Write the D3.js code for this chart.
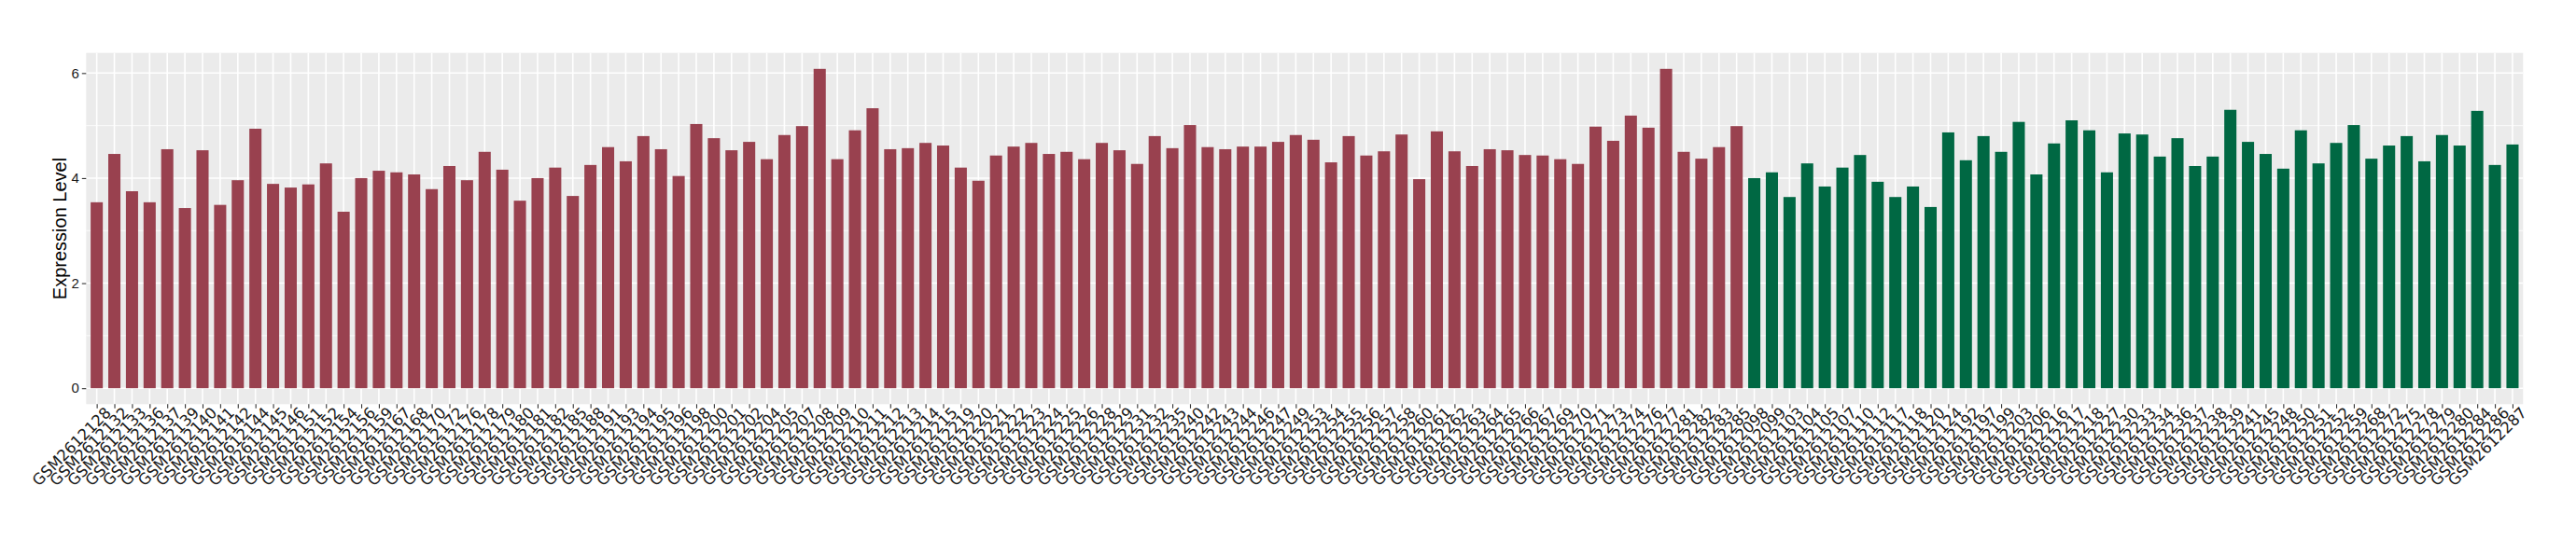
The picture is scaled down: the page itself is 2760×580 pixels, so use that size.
<!DOCTYPE html>
<html>
<head>
<meta charset="utf-8">
<script src="https://cdn.jsdelivr.net/npm/d3@7"></script>
<style>
  html, body { margin: 0; padding: 0; background: #ffffff; }
  svg { display: block; }
</style>
</head>
<body>
<svg id="chart" width="2760" height="580"></svg>
<script>
// ---- data ----
const groupASamples = [
  "GSM2612128","GSM2612132","GSM2612133","GSM2612136","GSM2612137","GSM2612139","GSM2612140","GSM2612141","GSM2612142","GSM2612144",
  "GSM2612145","GSM2612146","GSM2612151","GSM2612152","GSM2612154","GSM2612156","GSM2612159","GSM2612167","GSM2612168","GSM2612170",
  "GSM2612172","GSM2612176","GSM2612178","GSM2612179","GSM2612180","GSM2612181","GSM2612182","GSM2612185","GSM2612188","GSM2612191",
  "GSM2612193","GSM2612194","GSM2612195","GSM2612196","GSM2612198","GSM2612200","GSM2612201","GSM2612202","GSM2612204","GSM2612205",
  "GSM2612207","GSM2612208","GSM2612209","GSM2612210","GSM2612211","GSM2612212","GSM2612213","GSM2612214","GSM2612215","GSM2612219",
  "GSM2612220","GSM2612221","GSM2612222","GSM2612223","GSM2612224","GSM2612225","GSM2612226","GSM2612228","GSM2612229","GSM2612231",
  "GSM2612232","GSM2612235","GSM2612240","GSM2612242","GSM2612243","GSM2612244","GSM2612246","GSM2612247","GSM2612249","GSM2612253",
  "GSM2612254","GSM2612255","GSM2612256","GSM2612257","GSM2612258","GSM2612260","GSM2612261","GSM2612262","GSM2612263","GSM2612264",
  "GSM2612265","GSM2612266","GSM2612267","GSM2612269","GSM2612270","GSM2612271","GSM2612273","GSM2612274","GSM2612276","GSM2612277",
  "GSM2612281","GSM2612282","GSM2612283","GSM2612285"
];
const groupAValues = [
  3.54,4.46,3.75,3.54,4.55,3.43,4.53,3.49,3.96,4.94,
  3.89,3.82,3.88,4.28,3.36,4.00,4.14,4.11,4.07,3.79,
  4.23,3.96,4.50,4.16,3.57,4.00,4.20,3.66,4.25,4.59,
  4.32,4.80,4.55,4.04,5.03,4.76,4.53,4.69,4.36,4.82,
  4.99,6.08,4.36,4.91,5.33,4.55,4.57,4.67,4.62,4.20,
  3.95,4.43,4.60,4.67,4.46,4.50,4.36,4.67,4.53,4.27,
  4.80,4.57,5.01,4.59,4.55,4.60,4.60,4.69,4.82,4.73,
  4.30,4.80,4.43,4.51,4.83,3.98,4.89,4.51,4.23,4.55,
  4.53,4.44,4.43,4.36,4.27,4.98,4.71,5.19,4.96,6.08,
  4.50,4.37,4.59,4.99
];
const groupBSamples = [
  "GSM2612098","GSM2612099","GSM2612103","GSM2612104","GSM2612105","GSM2612107","GSM2612110","GSM2612112","GSM2612117","GSM2612118",
  "GSM2612120","GSM2612124","GSM2612192","GSM2612197","GSM2612199","GSM2612203","GSM2612206","GSM2612216","GSM2612217","GSM2612218",
  "GSM2612227","GSM2612230","GSM2612233","GSM2612234","GSM2612236","GSM2612237","GSM2612238","GSM2612239","GSM2612241","GSM2612245",
  "GSM2612248","GSM2612250","GSM2612251","GSM2612252","GSM2612259","GSM2612268","GSM2612272","GSM2612275","GSM2612278","GSM2612279",
  "GSM2612280","GSM2612284","GSM2612286","GSM2612287"
];
const groupBValues = [
  4.00,4.11,3.64,4.28,3.84,4.20,4.44,3.93,3.64,3.84,
  3.45,4.87,4.34,4.80,4.50,5.07,4.07,4.66,5.10,4.91,
  4.11,4.85,4.83,4.41,4.76,4.23,4.41,5.30,4.69,4.46,
  4.18,4.91,4.28,4.67,5.01,4.37,4.62,4.80,4.32,4.82,
  4.62,5.28,4.25,4.64
];
const yTicks = [0, 2, 4, 6];
const yMinorTicks = [1, 3, 5];
const yTitle = "Expression Level";
const groupColors = ["#99414F", "#006843"];

// ---- build table ----
const rows = [];
groupASamples.forEach((s, i) => rows.push({ sample: s, value: groupAValues[i], group: 0 }));
groupBSamples.forEach((s, i) => rows.push({ sample: s, value: groupBValues[i], group: 1 }));

// ---- layout ----
const svg = d3.select("#chart");
const panel = { left: 92.3, right: 2703.3, top: 56.7, bottom: 433.3 };

const x = d3.scalePoint()
  .domain(rows.map(d => d.sample))
  .range([panel.left, panel.right])
  .padding(0.6);
const barW = x.step() * 0.69;

const yMax = d3.max(rows, d => d.value);
const y = d3.scaleLinear()
  .domain([-0.05 * yMax, 1.05 * yMax])
  .range([panel.bottom, panel.top]);

// panel background
svg.append("rect")
  .attr("x", panel.left).attr("y", panel.top)
  .attr("width", panel.right - panel.left)
  .attr("height", panel.bottom - panel.top)
  .attr("fill", "#EBEBEB");

const grid = svg.append("g");
grid.selectAll("line.minor").data(yMinorTicks).join("line")
  .attr("x1", panel.left).attr("x2", panel.right)
  .attr("y1", d => y(d)).attr("y2", d => y(d))
  .attr("stroke", "#ffffff").attr("stroke-width", 0.8);
grid.selectAll("line.major").data(yTicks).join("line")
  .attr("x1", panel.left).attr("x2", panel.right)
  .attr("y1", d => y(d)).attr("y2", d => y(d))
  .attr("stroke", "#ffffff").attr("stroke-width", 1.6);
grid.selectAll("line.vx").data(rows).join("line")
  .attr("x1", d => x(d.sample)).attr("x2", d => x(d.sample))
  .attr("y1", panel.top).attr("y2", panel.bottom)
  .attr("stroke", "#ffffff").attr("stroke-width", 1.6);

// bars
svg.append("g").selectAll("rect").data(rows).join("rect")
  .attr("x", d => x(d.sample) - barW / 2)
  .attr("width", barW)
  .attr("y", d => y(d.value))
  .attr("height", d => y(0) - y(d.value))
  .attr("fill", d => groupColors[d.group]);

// y axis
const yAxis = svg.append("g")
  .attr("transform", `translate(${panel.left},0)`)
  .call(d3.axisLeft(y).tickValues(yTicks).tickSize(4.5).tickPadding(3).tickFormat(d3.format("d")));
yAxis.select(".domain").remove();
yAxis.selectAll(".tick line").attr("stroke", "#333333").attr("stroke-width", 1.1);
yAxis.selectAll(".tick text")
  .attr("fill", "#1a1a1a")
  .style("font-family", "'Liberation Sans', Arial, sans-serif")
  .style("font-size", "15px");

// x axis
const xAxis = svg.append("g")
  .attr("transform", `translate(0,${panel.bottom})`)
  .call(d3.axisBottom(x).tickSize(4.5).tickPadding(3));
xAxis.select(".domain").remove();
xAxis.selectAll(".tick line").attr("stroke", "#333333").attr("stroke-width", 1.1);
xAxis.selectAll(".tick text")
  .attr("fill", "#1a1a1a")
  .style("font-family", "'DejaVu Sans', sans-serif")
  .style("font-size", "16.5px")
  .attr("text-anchor", "end")
  .attr("dy", "0.75em")
  .attr("y", 6)
  .attr("x", 4)
  .attr("transform", "rotate(-45)");

// y title
svg.append("text")
  .attr("transform", `translate(71,${(panel.top + panel.bottom) / 2}) rotate(-90)`)
  .attr("text-anchor", "middle")
  .style("font-family", "'Liberation Sans', Arial, sans-serif")
  .style("font-size", "20px")
  .attr("fill", "#000000")
  .text(yTitle);
</script>
</body>
</html>
